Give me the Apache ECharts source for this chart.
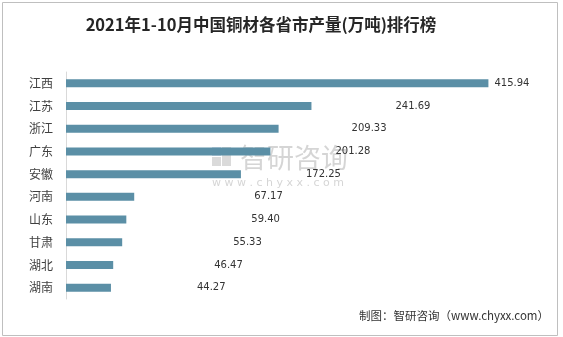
<!DOCTYPE html>
<html>
<head>
<meta charset="utf-8">
<script src="https://cdn.jsdelivr.net/npm/echarts@6/dist/echarts.min.js"></script>
<style>
html,body{margin:0;padding:0;background:#fff;}
#chart{width:563px;height:337px;}
</style>
</head>
<body>
<div id="chart"></div>
<script>
// ---- data ----
var titleText = '2021年1-10月中国铜材各省市产量(万吨)排行榜';
var sourceText = '制图：智研咨询（www.chyxx.com）';
var provinces = ['江西', '江苏', '浙江', '广东', '安徽', '河南', '山东', '甘肃', '湖北', '湖南'];
var output = [415.94, 241.69, 209.33, 201.28, 172.25, 67.17, 59.40, 55.33, 46.47, 44.27];

// ---- style: horizontal nudge of each value label (as in the reference) ----
var labelNudge = [1, 79, 68, 60, 60, 115, 120, 106, 96, 81];

var chart = echarts.init(document.getElementById('chart'), null, {renderer: 'canvas'});

var barData = output.map(function (v, i) {
  return {value: v, label: {offset: [labelNudge[i], 0]}};
});

var option = {
  backgroundColor: '#ffffff',
  animation: false,
  grid: {left: 66, right: 40, top: 72, height: 227, containLabel: false},
  xAxis: {
    type: 'value', min: 0, max: 450, show: false
  },
  yAxis: {
    type: 'category',
    data: provinces,
    inverse: true,
    axisLine: {show: true, lineStyle: {color: '#d9d9d9', width: 1}},
    axisTick: {show: false},
    axisLabel: {margin: 13, fontSize: 12, color: '#404040', fontFamily: 'Noto Sans CJK SC'},
    splitLine: {show: false}
  },
  series: [{
    type: 'bar',
    data: barData,
    barWidth: 8,
    itemStyle: {color: '#5b8fa6'},
    label: {
      show: true,
      position: 'right',
      distance: 5,
      fontSize: 10,
      color: '#333333',
      fontFamily: 'DejaVu Sans',
      formatter: function (p) { return p.value.toFixed(2); }
    }
  }],
  graphic: [
    {type: 'rect', shape: {x: 2.5, y: 2.5, width: 555, height: 333},
     style: {fill: 'none', stroke: '#bfbfbf', lineWidth: 1}, z: 0, silent: true},
    {type: 'text', x: 261, y: 25,
     style: {text: titleText, fontSize: 16.5, fontWeight: 'bold', fontFamily: 'Noto Sans CJK SC', fill: '#262626',
             textAlign: 'center', textVerticalAlign: 'middle'}},
    {type: 'text', x: 549, y: 316,
     style: {text: sourceText, fontSize: 11.5, fontFamily: 'Noto Sans CJK SC', fill: '#333333',
             textAlign: 'right', textVerticalAlign: 'middle'}},
    // watermark
    {type: 'group', z: 100, silent: true, children: [
      {type: 'rect', shape: {x: 212, y: 147, width: 9, height: 9}, style: {fill: 'rgba(120,150,190,0.35)'}},
      {type: 'rect', shape: {x: 222, y: 147, width: 9, height: 19}, style: {fill: 'rgba(150,150,150,0.35)'}},
      {type: 'rect', shape: {x: 212, y: 157, width: 9, height: 9}, style: {fill: 'rgba(150,150,150,0.35)'}},
      {type: 'text', x: 240, y: 158,
       style: {text: '智研咨询', fontSize: 27, fontFamily: 'Noto Sans CJK SC', fill: 'rgba(150,150,150,0.4)',
               textAlign: 'left', textVerticalAlign: 'middle'}},
      {type: 'text', x: 212, y: 183,
       style: {text: 'w w w . c h y x x . c o m', fontSize: 11, fontFamily: 'DejaVu Sans', fill: 'rgba(150,150,150,0.4)',
               textAlign: 'left', textVerticalAlign: 'middle'}}
    ]}
  ]
};
chart.setOption(option);
</script>
</body>
</html>
